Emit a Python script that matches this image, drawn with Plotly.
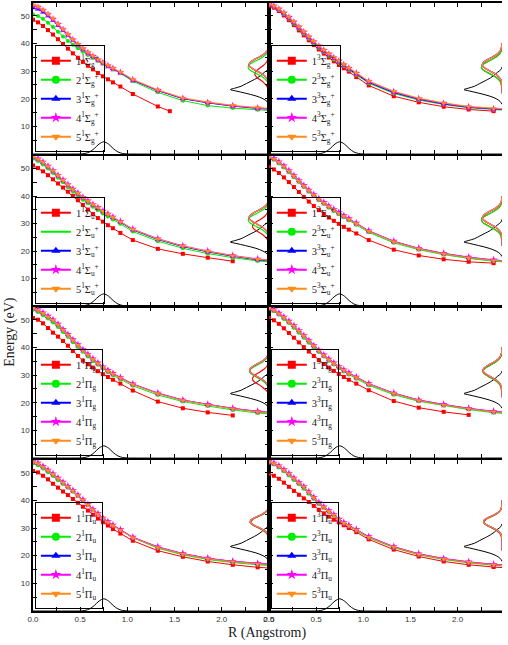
import plotly.graph_objects as go

# ---------------- data ----------------
R = [0.0, 0.053, 0.106, 0.159, 0.212, 0.265, 0.318, 0.370, 0.423, 0.476, 0.529, 0.582,
     0.635, 0.688, 0.741, 0.794, 0.847, 0.926, 1.058, 1.323, 1.588, 1.852, 2.117, 2.381, 2.646]
R_S1G_1 = R[:20] + [1.45]

# row 1 left : singlet Sigma g+
S1G_1 = [48.5, 47.6, 46.3, 44.8, 43.2, 41.5, 39.8, 38.1, 36.4, 34.8, 33.3, 31.9, 30.6, 29.3, 28.1, 27.0, 25.9, 24.4, 21.7, 17.2, 15.5]
S1G_2 = [50.4, 49.9, 48.9, 47.5, 45.9, 44.2, 42.5, 40.9, 39.5, 38.2, 37.0, 35.8, 34.7, 33.6, 32.6, 31.6, 30.6, 29.2, 26.3, 22.3, 19.3, 17.5, 16.6, 16.0, 15.4]
S1G_3 = [52.8, 52.3, 51.3, 49.9, 48.3, 46.5, 44.7, 42.9, 41.1, 39.4, 37.9, 36.5, 35.2, 34.0, 32.9, 31.8, 30.8, 29.4, 26.7, 22.9, 20.0, 18.5, 17.3, 16.5, 15.9]
S1G_4 = [53.6, 53.0, 51.9, 50.4, 48.7, 46.9, 45.0, 43.1, 41.3, 39.6, 38.0, 36.6, 35.3, 34.1, 33.0, 31.9, 30.9, 29.5, 26.8, 23.0, 20.1, 18.6, 17.4, 16.6, 16.0]
S1G_5 = [54.0, 53.3, 52.2, 50.7, 49.0, 47.1, 45.2, 43.3, 41.5, 39.8, 38.2, 36.8, 35.5, 34.3, 33.2, 32.1, 31.1, 29.7, 27.0, 23.2, 20.3, 18.8, 17.6, 16.8, 16.2]

# row 1 right : triplet Sigma g+
S3G_1 = [53.6, 52.9, 51.7, 50.1, 48.4, 46.6, 44.7, 42.9, 41.1, 39.4, 37.8, 36.3, 34.9, 33.5, 32.2, 31.0, 29.8, 27.8, 24.8, 20.9, 18.7, 17.1, 16.1, 15.5]
S3G_2 = [54.0, 53.2, 52.0, 50.5, 48.9, 47.1, 45.3, 43.5, 41.7, 40.0, 38.4, 36.9, 35.5, 34.2, 33.0, 31.7, 30.4, 28.6, 25.6, 21.9, 19.5, 17.9, 16.7, 16.0, 15.5]
S3G_3 = [54.0, 53.3, 52.2, 50.8, 49.2, 47.4, 45.6, 43.8, 42.0, 40.3, 38.7, 37.2, 35.8, 34.5, 33.3, 32.0, 30.7, 28.9, 25.9, 22.2, 19.8, 18.1, 16.9, 16.2, 15.7]
S3G_4 = [54.1, 53.5, 52.4, 51.0, 49.4, 47.7, 45.9, 44.1, 42.3, 40.6, 39.0, 37.5, 36.1, 34.8, 33.6, 32.3, 31.0, 29.2, 26.2, 22.5, 20.0, 18.3, 17.0, 16.3, 15.8]
S3G_5 = [54.2, 53.6, 52.6, 51.2, 49.6, 47.9, 46.1, 44.3, 42.5, 40.8, 39.2, 37.7, 36.3, 35.0, 33.8, 32.5, 31.2, 29.4, 26.4, 22.7, 20.2, 18.5, 17.2, 16.5, 16.0]

# row 2 left : singlet Sigma u+
S1U_1 = [51.1, 50.2, 49.0, 47.6, 46.1, 44.6, 43.1, 41.6, 40.1, 38.5, 36.8, 35.1, 33.5, 32.0, 30.7, 29.4, 28.3, 26.6, 24.0, 20.8, 19.0, 17.6, 16.3]
S1U_2 = [53.6, 52.8, 51.5, 50.0, 48.4, 46.7, 45.0, 43.3, 41.7, 40.2, 38.7, 37.4, 36.1, 34.9, 33.7, 32.6, 31.5, 29.9, 27.1, 23.6, 21.0, 19.1, 17.6, 16.4, 15.6]
S1U_3 = [54.2, 53.4, 52.1, 50.6, 49.0, 47.3, 45.6, 43.9, 42.3, 40.8, 39.3, 38.0, 36.7, 35.5, 34.3, 33.2, 32.1, 30.5, 27.7, 24.2, 21.6, 19.7, 18.1, 16.8, 15.9]
S1U_4 = [54.4, 53.6, 52.4, 50.9, 49.3, 47.6, 45.9, 44.2, 42.6, 41.1, 39.6, 38.3, 37.0, 35.8, 34.6, 33.5, 32.4, 30.8, 28.0, 24.5, 21.9, 20.0, 18.4, 17.1, 16.2]
S1U_5 = [54.3, 53.5, 52.3, 50.8, 49.2, 47.5, 45.8, 44.1, 42.5, 41.0, 39.5, 38.2, 36.9, 35.7, 34.5, 33.4, 32.3, 30.7, 27.9, 24.4, 21.8, 19.9, 18.3, 17.0, 16.1]

# row 2 right : triplet Sigma u+
S3U_1 = [50.6, 49.7, 48.4, 46.8, 45.1, 43.3, 41.5, 39.7, 38.0, 36.4, 34.9, 33.5, 32.2, 31.0, 29.9, 28.8, 27.8, 26.4, 24.0, 20.5, 18.4, 17.0, 16.1, 15.6]
S3U_2 = [54.0, 53.2, 51.9, 50.4, 48.7, 46.9, 45.1, 43.3, 41.6, 40.0, 38.5, 37.1, 35.8, 34.6, 33.4, 32.3, 31.2, 29.6, 26.8, 23.0, 20.5, 18.7, 17.3, 16.3, 15.6]
S3U_3 = [54.4, 53.6, 52.4, 50.9, 49.2, 47.4, 45.6, 43.8, 42.1, 40.5, 39.0, 37.6, 36.3, 35.1, 33.9, 32.8, 31.7, 30.1, 27.3, 23.5, 20.9, 19.1, 17.7, 16.7, 16.0]
S3U_4 = [54.5, 53.7, 52.5, 51.0, 49.3, 47.5, 45.7, 43.9, 42.2, 40.6, 39.1, 37.7, 36.4, 35.2, 34.0, 32.9, 31.8, 30.2, 27.4, 23.6, 21.0, 19.2, 17.8, 16.8, 16.1]
S3U_5 = [54.3, 53.5, 52.3, 50.8, 49.1, 47.3, 45.5, 43.7, 42.0, 40.4, 38.9, 37.5, 36.2, 35.0, 33.8, 32.7, 31.6, 30.0, 27.2, 23.4, 20.8, 19.0, 17.6, 16.6, 15.9]

# row 3 left : singlet Pi g
P1G_1 = [50.6, 50.0, 48.7, 47.0, 45.3, 43.9, 42.3, 40.6, 38.7, 36.9, 35.2, 33.9, 32.7, 31.4, 30.3, 29.3, 28.3, 26.9, 24.4, 20.4, 18.0, 16.5, 15.4]
P1G_2 = [53.6, 52.8, 51.6, 50.4, 49.0, 47.4, 45.6, 43.8, 41.9, 40.1, 38.4, 36.7, 35.1, 33.7, 32.3, 31.0, 29.9, 28.4, 26.1, 22.8, 20.4, 18.8, 17.4, 16.3, 15.6]
P1G_3 = [54.3, 53.5, 52.4, 51.2, 49.9, 48.3, 46.4, 44.6, 42.7, 40.9, 39.1, 37.4, 35.8, 34.3, 32.9, 31.6, 30.5, 29.0, 26.7, 23.4, 20.9, 19.3, 17.9, 16.8, 16.0]
P1G_4 = [54.4, 53.6, 52.5, 51.3, 50.0, 48.4, 46.5, 44.7, 42.8, 41.0, 39.2, 37.5, 35.9, 34.4, 33.0, 31.7, 30.6, 29.1, 26.8, 23.5, 21.0, 19.4, 18.0, 16.9, 16.1]
P1G_5 = [54.2, 53.4, 52.3, 51.1, 49.8, 48.2, 46.3, 44.5, 42.6, 40.8, 39.0, 37.3, 35.7, 34.2, 32.8, 31.5, 30.4, 28.9, 26.6, 23.3, 20.8, 19.2, 17.8, 16.7, 15.9]

# row 3 right : triplet Pi g
P3G_1 = [50.5, 49.8, 48.5, 46.9, 45.2, 43.5, 41.8, 40.1, 38.5, 36.9, 35.4, 34.0, 32.7, 31.5, 30.4, 29.3, 28.3, 26.9, 24.5, 20.6, 18.2, 16.7, 15.6]
P3G_2 = [54.0, 53.1, 51.8, 50.3, 48.8, 47.1, 45.3, 43.5, 41.7, 40.0, 38.3, 36.7, 35.2, 33.8, 32.5, 31.3, 30.2, 28.7, 26.3, 22.9, 20.5, 18.9, 17.5, 16.4, 15.7]
P3G_3 = [54.3, 53.5, 52.3, 50.9, 49.4, 47.8, 46.0, 44.2, 42.4, 40.6, 38.9, 37.2, 35.7, 34.3, 33.0, 31.8, 30.7, 29.2, 26.8, 23.4, 20.9, 19.3, 17.9, 16.8, 16.1]
P3G_4 = [54.4, 53.6, 52.4, 51.0, 49.5, 47.9, 46.1, 44.3, 42.5, 40.7, 39.0, 37.3, 35.8, 34.4, 33.1, 31.9, 30.8, 29.3, 26.9, 23.5, 21.0, 19.4, 18.0, 16.9, 16.2]
P3G_5 = [54.2, 53.4, 52.2, 50.8, 49.3, 47.7, 45.9, 44.1, 42.3, 40.5, 38.8, 37.1, 35.6, 34.2, 32.9, 31.7, 30.6, 29.1, 26.7, 23.3, 20.8, 19.2, 17.8, 16.7, 16.0]

# row 4 left : singlet Pi u
P1U_1 = [50.6, 50.1, 48.9, 47.6, 46.0, 44.6, 43.2, 41.9, 40.5, 39.1, 37.7, 36.3, 34.8, 33.4, 32.1, 30.9, 29.6, 28.0, 25.4, 21.8, 19.6, 17.9, 16.7, 15.8, 15.2]
P1U_2 = [53.3, 52.7, 51.5, 50.2, 48.8, 47.3, 45.9, 44.6, 43.1, 41.6, 40.0, 38.3, 36.6, 35.0, 33.5, 32.2, 31.0, 29.3, 26.5, 22.7, 20.3, 18.6, 17.5, 16.7, 16.1]
P1U_3 = [54.0, 53.4, 52.2, 50.9, 49.5, 48.0, 46.5, 45.0, 43.6, 41.9, 40.2, 38.4, 36.7, 35.1, 33.5, 32.2, 31.0, 29.3, 26.6, 23.1, 20.7, 19.0, 17.9, 17.1, 16.5]
P1U_4 = [54.1, 53.5, 52.3, 51.0, 49.6, 48.1, 46.6, 45.1, 43.6, 41.9, 40.2, 38.5, 36.8, 35.2, 33.6, 32.3, 31.1, 29.4, 26.7, 23.2, 20.8, 19.1, 18.0, 17.2, 16.6]
P1U_5 = [54.0, 53.3, 52.1, 50.8, 49.4, 47.9, 46.4, 44.9, 43.5, 41.8, 40.1, 38.3, 36.6, 35.0, 33.4, 32.1, 30.9, 29.2, 26.5, 23.0, 20.6, 18.9, 17.8, 17.0, 16.4]

# row 4 right : triplet Pi u
P3U_1 = [49.6, 48.9, 47.8, 46.4, 44.9, 43.4, 42.0, 40.7, 39.4, 38.0, 36.6, 35.3, 34.1, 33.0, 32.0, 31.0, 30.0, 28.5, 25.9, 22.2, 19.7, 17.9, 16.7, 15.9, 15.3]
P3U_2 = [53.6, 53.0, 51.9, 50.5, 49.0, 47.4, 45.8, 44.2, 42.4, 40.5, 38.7, 37.2, 35.8, 34.4, 32.8, 31.6, 30.6, 29.1, 26.5, 22.9, 20.3, 18.6, 17.4, 16.5, 15.8]
P3U_3 = [54.0, 53.4, 52.4, 51.0, 49.6, 48.0, 46.4, 44.9, 43.0, 41.0, 39.1, 37.6, 36.2, 34.8, 33.1, 31.9, 30.9, 29.4, 26.8, 23.2, 20.6, 18.9, 17.7, 16.8, 16.1]
P3U_4 = [54.1, 53.5, 52.5, 51.1, 49.7, 48.1, 46.5, 45.0, 43.1, 41.1, 39.2, 37.7, 36.3, 34.9, 33.2, 32.0, 31.0, 29.5, 26.9, 23.3, 20.7, 19.0, 17.8, 16.9, 16.2]
P3U_5 = [54.0, 53.3, 52.3, 50.9, 49.5, 47.9, 46.3, 44.8, 42.9, 40.9, 39.0, 37.5, 36.1, 34.7, 33.0, 31.8, 30.8, 29.3, 26.7, 23.1, 20.5, 18.8, 17.6, 16.7, 16.0]

# ground-state vibrational density (bottom black bump)
PSI_R = [0.0, 0.45, 0.5, 0.55, 0.6, 0.65, 0.7, 0.75, 0.8, 0.85, 0.9, 0.95, 1.0, 1.05, 2.6]
PSI_V = [0, 0, 0.03, 0.2, 0.76, 2.0, 3.6, 4.4, 3.6, 2.0, 0.76, 0.2, 0.03, 0, 0]

# spectra drawn sideways at right edge of each panel (energy vs intensity)
SPEC_E = [22, 24, 26, 27, 28, 29, 30, 31, 32, 33, 34, 35, 36, 37, 38, 40]
SP1_UP = [0, 0, 0.02, 0.06, 0.15, 0.30, 0.52, 0.72, 0.84, 0.81, 0.65, 0.43, 0.23, 0.10, 0.04, 0]
SP1_GR = [0, 0.01, 0.06, 0.15, 0.30, 0.52, 0.74, 0.87, 0.86, 0.70, 0.48, 0.27, 0.12, 0.05, 0.01, 0]
SP1_RD = [0, 0.05, 0.24, 0.40, 0.54, 0.60, 0.54, 0.40, 0.24, 0.12, 0.05, 0.02, 0, 0, 0, 0]
SP2_UP = [0, 0, 0.02, 0.07, 0.17, 0.33, 0.55, 0.75, 0.85, 0.79, 0.62, 0.40, 0.21, 0.09, 0.03, 0]
SP2_GR = [0, 0.01, 0.07, 0.17, 0.33, 0.55, 0.76, 0.87, 0.84, 0.67, 0.45, 0.25, 0.11, 0.04, 0.01, 0]
SP2_RD = [0, 0.05, 0.27, 0.46, 0.63, 0.70, 0.63, 0.46, 0.27, 0.14, 0.06, 0.02, 0, 0, 0, 0]
SP3_UP = [0, 0, 0.04, 0.10, 0.22, 0.41, 0.62, 0.78, 0.81, 0.70, 0.50, 0.29, 0.14, 0.06, 0.02, 0]
SP3_GR = [0, 0.01, 0.06, 0.14, 0.28, 0.48, 0.68, 0.81, 0.78, 0.63, 0.42, 0.23, 0.10, 0.04, 0.01, 0]
SP3_RD = [0.01, 0.07, 0.33, 0.52, 0.67, 0.69, 0.59, 0.40, 0.23, 0.10, 0.04, 0.01, 0, 0, 0, 0]
SP4_UP = [0, 0, 0, 0.02, 0.06, 0.18, 0.38, 0.63, 0.79, 0.75, 0.54, 0.29, 0.12, 0.04, 0.01, 0]
SP4_GR = [0, 0, 0.01, 0.03, 0.08, 0.21, 0.42, 0.66, 0.79, 0.72, 0.50, 0.26, 0.10, 0.03, 0.01, 0]
SP4_RD = [0, 0, 0.01, 0.03, 0.09, 0.23, 0.44, 0.66, 0.77, 0.70, 0.48, 0.25, 0.10, 0.03, 0.01, 0]
BLACK_E = [18, 19, 20, 21, 22, 22.8, 23.3, 23.8, 24.5, 25.5, 26.5, 27.5, 28.5, 29.5, 30.5, 31.5]
BLACK_I = [0, 0.08, 0.25, 0.55, 1.0, 1.4, 1.63, 1.45, 1.18, 0.95, 0.72, 0.5, 0.33, 0.2, 0.05, 0]

X_TICKS = [0.0, 0.5, 1.0, 1.5, 2.0, 2.5]
Y_TICKS = [10, 20, 30, 40, 50]

def names(mult, term):
    return [f"{i}<sup>{mult}</sup>{term}" for i in range(1, 6)]

SG = "Σ<sub>g</sub><sup>+</sup>"
SU = "Σ<sub>u</sub><sup>+</sup>"
PG = "Π<sub>g</sub>"
PU = "Π<sub>u</sub>"

PANELS = [
    dict(row=0, col=0, labels=names(1, SG), curves=[(R_S1G_1, S1G_1), (R, S1G_2), (R, S1G_3), (R, S1G_4), (R, S1G_5)],
         spec=(SP1_RD, SP1_GR, SP1_UP)),
    dict(row=0, col=1, labels=names(3, SG), curves=[(R[:24], S3G_1), (R, S3G_2), (R, S3G_3), (R, S3G_4), (R, S3G_5)],
         spec=(SP1_GR, SP1_GR, SP1_UP)),
    dict(row=1, col=0, labels=names(1, SU), curves=[(R[:23], S1U_1), (R, S1U_2), (R, S1U_3), (R, S1U_4), (R, S1U_5)],
         spec=(SP2_RD, SP2_GR, SP2_UP), nomark=[1]),
    dict(row=1, col=1, labels=names(3, SU), curves=[(R[:24], S3U_1), (R, S3U_2), (R, S3U_3), (R, S3U_4), (R, S3U_5)],
         spec=(SP2_GR, SP2_GR, SP2_UP)),
    dict(row=2, col=0, labels=names(1, PG), curves=[(R[:23], P1G_1), (R, P1G_2), (R, P1G_3), (R, P1G_4), (R, P1G_5)],
         spec=(SP3_RD, SP3_GR, SP3_UP)),
    dict(row=2, col=1, labels=names(3, PG), curves=[(R[:23], P3G_1), (R, P3G_2), (R, P3G_3), (R, P3G_4), (R, P3G_5)],
         spec=(SP3_GR, SP3_GR, SP3_UP)),
    dict(row=3, col=0, labels=names(1, PU), curves=[(R, P1U_1), (R, P1U_2), (R, P1U_3), (R, P1U_4), (R, P1U_5)],
         spec=(SP4_RD, SP4_GR, SP4_UP)),
    dict(row=3, col=1, labels=names(3, PU), curves=[(R, P3U_1), (R, P3U_2), (R, P3U_3), (R, P3U_4), (R, P3U_5)],
         spec=(SP4_RD, SP4_GR, SP4_UP)),
]

# ---------------- style ----------------
COLORS = ['#FF0000', '#00EE00', '#0000FF', '#FF00FF', '#FF8C1A']
SYMBOLS = ['square', 'circle', 'triangle-up', 'star', 'triangle-down']
MSIZE = [4, 4, 5, 6, 5]

COL_DOM = [[0.0, 0.503], [0.503, 1.0]]
ROW_DOM = [[0.7516, 1.0], [0.5016, 0.7484], [0.2516, 0.5], [0.0, 0.2484]]
LEG_X = [0.004, 0.507]

fig = go.Figure()
layout = {}

for p, pan in enumerate(PANELS):
    r, c = pan['row'], pan['col']
    xa = 'x' if p == 0 else f'x{p+1}'
    ya = 'y' if p == 0 else f'y{p+1}'
    xo = f'x{p+9}'
    leg = 'legend' if p == 0 else f'legend{p+1}'
    nomark = pan.get('nomark', [])

    # bottom vibrational density
    fig.add_trace(go.Scatter(x=PSI_R, y=PSI_V, mode='lines', line=dict(color='black', width=1, shape='spline'),
                             xaxis=xa, yaxis=ya, showlegend=False, hoverinfo='skip'))

    # potential curves
    for i, (rr, ee) in enumerate(pan['curves']):
        fig.add_trace(go.Scatter(x=rr, y=ee, mode='lines+markers',
                                 line=dict(color=COLORS[i], width=1),
                                 marker=dict(color=COLORS[i], symbol=SYMBOLS[i], size=MSIZE[i], line=dict(width=0)),
                                 xaxis=xa, yaxis=ya, showlegend=False))
        # legend entry
        fig.add_trace(go.Scatter(x=[None], y=[None],
                                 mode='lines' if i in nomark else 'lines+markers',
                                 line=dict(color=COLORS[i], width=2),
                                 marker=dict(color=COLORS[i], symbol=SYMBOLS[i], size=8, line=dict(width=0)),
                                 xaxis=xa, yaxis=ya, name=pan['labels'][i], legend=leg, showlegend=True))

    # sideways spectra on overlaid intensity axis
    sp_red, sp_green, sp_up = pan['spec']
    spec_list = [sp_red, sp_green, sp_up, sp_up, sp_up]
    fig.add_trace(go.Scatter(x=BLACK_I, y=BLACK_E, mode='lines', line=dict(color='black', width=1, shape='spline'),
                             xaxis=xo, yaxis=ya, showlegend=False, hoverinfo='skip'))
    for i in range(5):
        fig.add_trace(go.Scatter(x=spec_list[i], y=SPEC_E, mode='lines',
                                 line=dict(color=COLORS[i], width=1.2, shape='spline'),
                                 xaxis=xo, yaxis=ya, showlegend=False, hoverinfo='skip'))

    xkey = 'xaxis' if p == 0 else f'xaxis{p+1}'
    ykey = 'yaxis' if p == 0 else f'yaxis{p+1}'
    layout[xkey] = dict(domain=COL_DOM[c], range=[0, 2.5] if c == 0 else [0, 2.47], anchor=ya,
                        showline=True, linecolor='black', linewidth=1.5, mirror='allticks',
                        ticks='inside', ticklen=4, tickwidth=1, tickcolor='black',
                        tickvals=X_TICKS, ticktext=[f"{v:.1f}" for v in X_TICKS],
                        showticklabels=(r == 3), tickfont=dict(family='Liberation Sans', size=8, color='#333'),
                        showgrid=False, zeroline=False,
                        minor=dict(dtick=0.25, tick0=0, ticks='inside', ticklen=4, tickcolor='black', showgrid=False))
    layout[ykey] = dict(domain=ROW_DOM[r], range=[0, 54.6], anchor=xa,
                        showline=True, linecolor='black', linewidth=1.5, mirror=('allticks' if c == 0 else False),
                        ticks='inside', ticklen=4, tickwidth=1, tickcolor='black',
                        tickvals=Y_TICKS, showticklabels=(c == 0),
                        tickfont=dict(family='Liberation Sans', size=8, color='#333'),
                        showgrid=False, zeroline=False,
                        minor=dict(dtick=5, tick0=0, ticks='inside', ticklen=3, tickcolor='black', showgrid=False))
    layout[f'xaxis{p+9}'] = dict(overlaying=xa, range=[10, 0], anchor=ya, visible=False)
    layout[leg] = dict(x=LEG_X[c], y=ROW_DOM[r][0] + 0.003, xanchor='left', yanchor='bottom',
                       bgcolor='rgba(255,255,255,0)', bordercolor='black', borderwidth=1,
                       font=dict(family='Liberation Serif', size=10.5, color='#222'),
                       itemwidth=30, tracegroupgap=0, itemclick=False, itemdoubleclick=False)

fig.update_layout(**layout)
fig.update_layout(
    width=508, height=645,
    margin=dict(l=33, r=0, t=3, b=34),
    plot_bgcolor='white', paper_bgcolor='white',
    annotations=[
        dict(text='Energy (eV)', x=-0.048, y=0.46, xref='paper', yref='paper', showarrow=False,
             xanchor='center', yanchor='middle',
             textangle=-90, font=dict(family='Liberation Serif', size=14, color='#222')),
        dict(text='R (Angstrom)', x=0.499, y=-0.036, xref='paper', yref='paper', showarrow=False,
             xanchor='center', yanchor='middle', font=dict(family='Liberation Serif', size=14, color='#222')),
    ],
)

fig.write_html("out.html", config={'displayModeBar': False},
               post_script="document.body.style.margin='0';document.body.style.overflow='hidden';")
